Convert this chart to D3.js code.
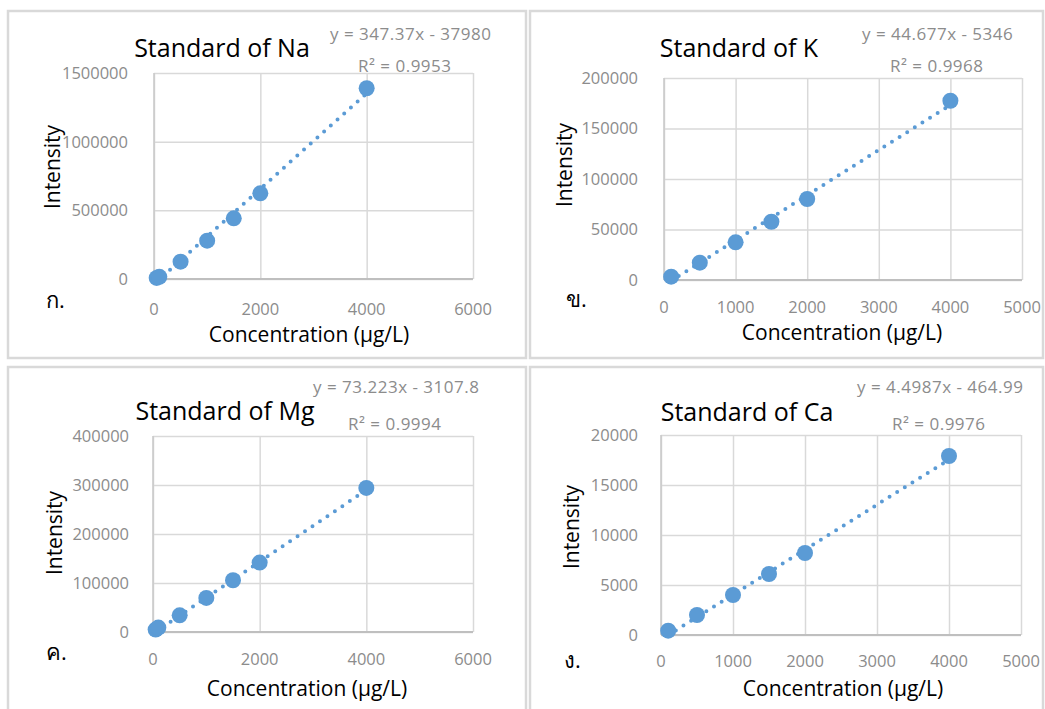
<!DOCTYPE html>
<html><head><meta charset="utf-8">
<script src="https://cdn.jsdelivr.net/npm/d3@7"></script>
<style>
body{margin:0;background:#fff}
svg{display:block}
text{font-family:"Open Sans","Noto Sans","DejaVu Sans",sans-serif}
</style></head>
<body>
<svg id="c" width="1045" height="709"></svg>
<script>
// ---------- data ----------
const titles = ["Standard of Na", "Standard of K", "Standard of Mg", "Standard of Ca"];
const panelLabels = ["ก.", "ข.", "ค.", "ง."];
const xTitle = "Concentration (µg/L)";
const yTitle = "Intensity";

const concNa = [50, 100, 500, 1000, 1500, 2000, 4000];
const intensityNa = [8000, 16000, 126000, 279000, 442000, 624000, 1389000];
const concK = [100, 500, 1000, 1500, 2000, 4000];
const intensityK = [3300, 17200, 37300, 57700, 80200, 177500];
const concMg = [50, 100, 500, 1000, 1500, 2000, 4000];
const intensityMg = [5000, 9000, 34000, 69500, 105600, 141700, 294000];
const concCa = [100, 500, 1000, 1500, 2000, 4000];
const intensityCa = [430, 2000, 4000, 6100, 8200, 17900];

const slopes = [347.37, 44.677, 73.223, 4.4987];
const intercepts = [-37980, -5346, -3107.8, -464.99];
const equationLabels = ["y = 347.37x - 37980", "y = 44.677x - 5346", "y = 73.223x - 3107.8", "y = 4.4987x - 464.99"];
const r2Labels = ["R² = 0.9953", "R² = 0.9968", "R² = 0.9994", "R² = 0.9976"];

const xTicksNa = [0, 2000, 4000, 6000];
const xTicksK = [0, 1000, 2000, 3000, 4000, 5000];
const xTicksMg = [0, 2000, 4000, 6000];
const xTicksCa = [0, 1000, 2000, 3000, 4000, 5000];
const yTicksNa = [0, 500000, 1000000, 1500000];
const yTicksK = [0, 50000, 100000, 150000, 200000];
const yTicksMg = [0, 100000, 200000, 300000, 400000];
const yTicksCa = [0, 5000, 10000, 15000, 20000];

const concs = [concNa, concK, concMg, concCa];
const intens = [intensityNa, intensityK, intensityMg, intensityCa];
const xTicks = [xTicksNa, xTicksK, xTicksMg, xTicksCa];
const yTicks = [yTicksNa, yTicksK, yTicksMg, yTicksCa];

// ---------- layout ----------
const layout = [
  {box:[8,11,518,347], plot:[154,73,473,279], title:[222,57], eq:[330,40], r2:[358,72], ytr:128, xtb:315, xt:[309,342], yt:[53,167], lab:[46,308]},
  {box:[530,11,513,347], plot:[664,78,1022,280], title:[739,57], eq:[862,40], r2:[890,72], ytr:638, xtb:313, xt:[842,340], yt:[565,165], lab:[566,307]},
  {box:[8,367,518,345], plot:[153,436,473,632], title:[225,420], eq:[313,393], r2:[348,430], ytr:129, xtb:665, xt:[307,696], yt:[55,533], lab:[46,660]},
  {box:[530,367,513,345], plot:[661,435,1021,635], title:[747,421], eq:[857,393], r2:[892,430], ytr:638, xtb:667, xt:[843,696], yt:[572,527], lab:[564,668]}
];

const svg = d3.select("#c");
const blue = "#5b9bd5";
const gray = "#8c8c8c";

layout.forEach((L, i) => {
  const g = svg.append("g");
  g.append("rect").attr("x", L.box[0]).attr("y", L.box[1]).attr("width", L.box[2]).attr("height", L.box[3])
    .attr("fill", "#fff").attr("stroke", "#d9d9d9").attr("stroke-width", 2.5);

  const [x0, y0, x1, y1] = L.plot;
  const xt = xTicks[i], yt = yTicks[i];
  const x = d3.scaleLinear().domain([0, d3.max(xt)]).range([x0, x1]);
  const y = d3.scaleLinear().domain([0, d3.max(yt)]).range([y1, y0]);

  // gridlines
  const gx = g.append("g").attr("transform", `translate(0,${y1})`)
    .call(d3.axisBottom(x).tickValues(xt).tickSize(-(y1 - y0)).tickFormat(""));
  gx.select(".domain").remove();
  gx.selectAll("line").attr("stroke", "#d9d9d9").attr("stroke-width", 1.5);
  const gy = g.append("g").attr("transform", `translate(${x0},0)`)
    .call(d3.axisLeft(y).tickValues(yt).tickSize(-(x1 - x0)).tickFormat(""));
  gy.select(".domain").remove();
  gy.selectAll("line").attr("stroke", "#d9d9d9").attr("stroke-width", 1.5);
  // axis lines
  g.append("line").attr("x1", x0).attr("x2", x1).attr("y1", y(0)).attr("y2", y(0)).attr("stroke", "#bfbfbf").attr("stroke-width", 2);
  g.append("line").attr("x1", x(0)).attr("x2", x(0)).attr("y1", y0).attr("y2", y1).attr("stroke", "#c8c8c8").attr("stroke-width", 1.5);

  // tick labels
  g.append("g").selectAll("text").data(yt).join("text")
    .attr("x", L.ytr).attr("y", d => y(d)).attr("dy", "0.36em").attr("text-anchor", "end")
    .attr("font-size", 16.5).attr("fill", gray).text(d => d);
  g.append("g").selectAll("text").data(xt).join("text")
    .attr("x", d => x(d)).attr("y", L.xtb).attr("text-anchor", "middle")
    .attr("font-size", 16.5).attr("fill", gray).text(d => d);

  // clip
  const cid = "clip" + i;
  g.append("clipPath").attr("id", cid).append("rect").attr("x", x0).attr("y", y0 - 20).attr("width", x1 - x0).attr("height", y1 - y0 + 20);

  // trendline
  const xs = concs[i];
  const xmin = d3.min(xs), xmax = d3.max(xs);
  const tl = [xmin, xmax].map(v => [v, slopes[i] * v + intercepts[i]]);
  g.append("path").attr("clip-path", `url(#${cid})`)
    .attr("d", d3.line().x(d => x(d[0])).y(d => y(d[1]))(tl))
    .attr("fill", "none").attr("stroke", blue).attr("stroke-width", 4)
    .attr("stroke-linecap", "round").attr("stroke-dasharray", "0 9");

  // points
  g.append("g").selectAll("circle").data(xs.map((c, k) => [c, intens[i][k]])).join("circle")
    .attr("cx", d => x(d[0])).attr("cy", d => y(d[1])).attr("r", 8).attr("fill", blue);

  // texts
  g.append("text").attr("x", L.title[0]).attr("y", L.title[1]).attr("text-anchor", "middle")
    .attr("font-size", 25).attr("fill", "#000").text(titles[i]);
  g.append("text").attr("x", L.eq[0]).attr("y", L.eq[1]).attr("font-size", 17).attr("letter-spacing", 0.5).attr("fill", gray).text(equationLabels[i]);
  g.append("text").attr("x", L.r2[0]).attr("y", L.r2[1]).attr("font-size", 17).attr("letter-spacing", 0.5).attr("fill", gray).text(r2Labels[i]);
  g.append("text").attr("x", L.xt[0]).attr("y", L.xt[1]).attr("text-anchor", "middle")
    .attr("font-size", 21).attr("fill", "#000").text(xTitle);
  g.append("text").attr("transform", `translate(${L.yt[0]},${L.yt[1]}) rotate(-90)`).attr("text-anchor", "middle")
    .attr("dy", "0.35em").attr("font-size", 21).attr("fill", "#000").text(yTitle);
  g.append("text").attr("x", L.lab[0]).attr("y", L.lab[1]).attr("font-size", 22).attr("fill", "#000").text(panelLabels[i]);
});
</script>
</body></html>
